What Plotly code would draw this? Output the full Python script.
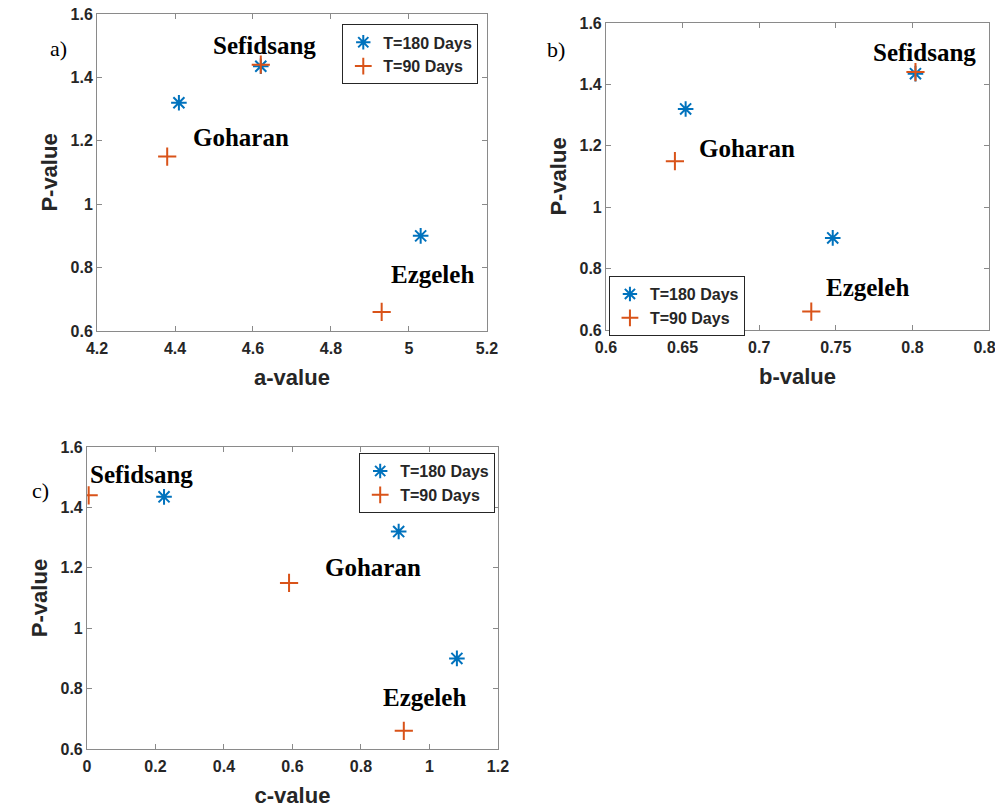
import plotly.graph_objects as go

sites = ["Sefidsang", "Goharan", "Ezgeleh"]

# Panel a (a-value)
a_180 = [4.62, 4.41, 5.03]
a_90 = [4.62, 4.38, 4.93]
# Panel b (b-value)
b_180 = [0.802, 0.652, 0.748]
b_90 = [0.802, 0.645, 0.734]
# Panel c (c-value)
c_180 = [0.225, 0.91, 1.08]
c_90 = [0.005, 0.59, 0.925]
# P-values
p_180 = [1.435, 1.32, 0.90]
p_90 = [1.44, 1.15, 0.66]

# label positions (data coords) per panel
lab_a = [(4.63, 1.50), (4.57, 1.21), (5.06, 0.777)]
lab_b = [(0.808, 1.505), (0.692, 1.19), (0.771, 0.74)]
lab_c = [(0.16, 1.51), (0.835, 1.20), (0.984, 0.77)]

BLUE = "#0072BD"
ORANGE = "#D95319"
AXC = "#8a8a8a"
SANS = "Liberation Sans"
SERIF = "Liberation Serif"

fig = go.Figure()

panels = [
    ("x", "y", "legend", a_180, a_90),
    ("x2", "y2", "legend2", b_180, b_90),
    ("x3", "y3", "legend3", c_180, c_90),
]
for xr, yr, lg, x180, x90 in panels:
    fig.add_trace(go.Scatter(
        x=x180, y=p_180, mode="markers", name="T=180 Days",
        xaxis=xr, yaxis=yr, legend=lg,
        marker=dict(symbol="asterisk-open", size=13, color=BLUE,
                    line=dict(color=BLUE, width=2)),
    ))
    fig.add_trace(go.Scatter(
        x=x90, y=p_90, mode="markers", name="T=90 Days",
        xaxis=xr, yaxis=yr, legend=lg,
        marker=dict(symbol="cross-thin-open", size=13, color=ORANGE,
                    line=dict(color=ORANGE, width=2)),
    ))

tickfont = dict(family=SANS, size=16, color="#262626", weight="bold")
titlefont = dict(family=SANS, size=22, color="#262626", weight="bold")


def xaxis(domain, rng, dtick, title, anchor):
    return dict(domain=domain, range=rng, dtick=dtick, tick0=rng[0],
                automargin=False, ticklabeloverflow="allow",
                ticklabelstandoff=3,
                showgrid=False, zeroline=False, showline=True, linecolor=AXC,
                linewidth=1, mirror="ticks", ticks="inside", ticklen=5,
                tickcolor=AXC, tickfont=tickfont,
                title=dict(text=title, font=titlefont, standoff=13),
                anchor=anchor)


def yaxis(domain, anchor):
    return dict(domain=domain, range=[0.6, 1.6], dtick=0.2, tick0=0.6,
                automargin=False,
                showgrid=False, zeroline=False, showline=True, linecolor=AXC,
                linewidth=1, mirror="ticks", ticks="inside", ticklen=5,
                tickcolor=AXC, tickfont=tickfont,
                title=dict(text="P-value", font=titlefont, standoff=6),
                anchor=anchor)


def legend(x, y):
    return dict(x=x, y=y, xanchor="left", yanchor="top",
                bordercolor="#262626", borderwidth=1, bgcolor="white",
                font=dict(family=SANS, size=16, color="#262626", weight="bold"),
                itemsizing="constant", tracegroupgap=0, itemwidth=30)


fig.update_layout(
    template="none",
    width=995, height=812,
    margin=dict(l=0, r=0, t=0, b=0),
    paper_bgcolor="white", plot_bgcolor="white",
    xaxis=xaxis([0.0975, 0.4894], [4.2, 5.2], 0.2, "a-value", "y"),
    yaxis=yaxis([0.5924, 0.9828], "x"),
    xaxis2=xaxis([0.609, 0.994], [0.6, 0.85], 0.05, "b-value", "y2"),
    yaxis2=yaxis([0.5936, 0.9717], "x2"),
    xaxis3=xaxis([0.0874, 0.5005], [0, 1.2], 0.2, "c-value", "y3"),
    yaxis3=yaxis([0.0776, 0.4495], "x3"),
    legend=legend(0.344, 0.970),
    legend2=legend(0.612, 0.660),
    legend3=legend(0.361, 0.442),
    showlegend=True,
)

annotations = []
for (xr, yr, labs) in [("x", "y", lab_a), ("x2", "y2", lab_b), ("x3", "y3", lab_c)]:
    for name, (lx, ly) in zip(sites, labs):
        annotations.append(dict(
            x=lx, y=ly, xref=xr, yref=yr, text=name, showarrow=False,
            font=dict(family=SERIF, size=25, color="black", weight="bold"),
        ))

for txt, px, py in [("a)", 48, 34), ("b)", 556, 35), ("c)", 30, 490)]:
    annotations.append(dict(
        x=px / 995, y=1 - py / 812, xref="paper", yref="paper", text=txt,
        showarrow=False, font=dict(family=SERIF, size=22, color="black"),
    ))

fig.update_layout(annotations=annotations)

fig.write_html(
    "out.html",
    config={"displayModeBar": False},
    post_script="document.body.style.margin='0';document.body.style.overflow='hidden';",
)
